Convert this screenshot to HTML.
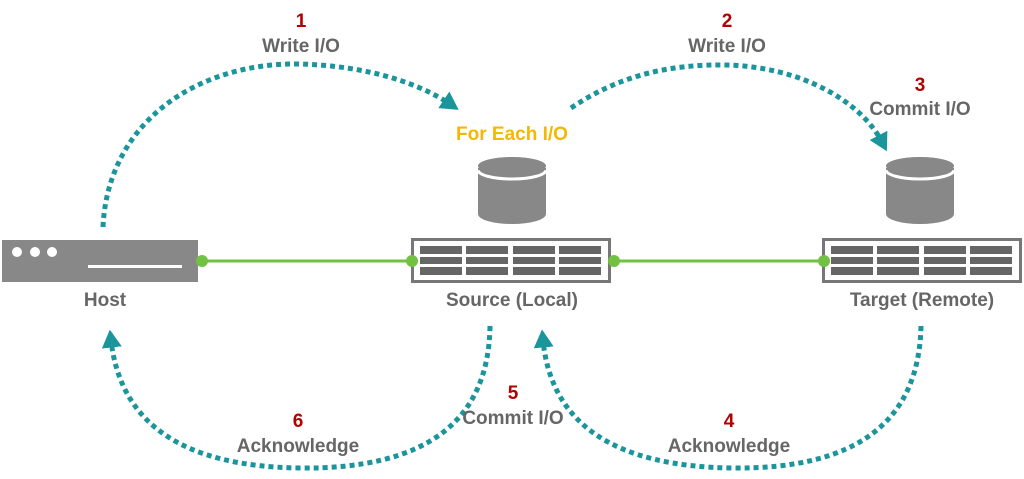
<!DOCTYPE html>
<html><head><meta charset="utf-8"><style>
html,body{margin:0;padding:0;background:#fff;}
svg{display:block}
text{font-family:"Liberation Sans Narrow","Liberation Sans",sans-serif;font-weight:bold;text-anchor:middle}
.g{fill:#666;font-size:19px}
.r{fill:#b30000;font-size:19px}
</style></head><body>
<svg width="1024" height="479" viewBox="0 0 1024 479" xmlns="http://www.w3.org/2000/svg">
<defs>
<marker id="ah" markerWidth="4" markerHeight="4" refX="1.5" refY="2" orient="auto" markerUnits="strokeWidth">
<path d="M0,0 L3.6,2 L0,4 Z" fill="#1a959c"/>
</marker>
<g id="store">
<rect x="1.5" y="1.5" width="197" height="42" fill="#fff" stroke="#777" stroke-width="3"/>
<g fill="#666">
<rect x="9" y="8" width="42" height="8"/><rect x="55" y="8" width="42" height="8"/><rect x="102" y="8" width="42" height="8"/><rect x="148" y="8" width="42" height="8"/>
<rect x="9" y="19" width="42" height="7"/><rect x="55" y="19" width="42" height="7"/><rect x="102" y="19" width="42" height="7"/><rect x="148" y="19" width="42" height="7"/>
<rect x="9" y="29" width="42" height="8"/><rect x="55" y="29" width="42" height="8"/><rect x="102" y="29" width="42" height="8"/><rect x="148" y="29" width="42" height="8"/>
</g>
</g>
<g id="cyl">
<path d="M0,10 L0,56 A34,10 0 0 0 68,56 L68,10 Z" fill="#888"/>
<ellipse cx="34" cy="8" rx="34" ry="9" fill="#888"/>
<path d="M0,12 A34,9 0 0 0 68,12" fill="none" stroke="#fff" stroke-width="3"/>
</g>
</defs>

<rect x="2" y="240" width="196" height="42" fill="#888"/>
<circle cx="17" cy="252" r="5" fill="#fff"/><circle cx="35" cy="252" r="5" fill="#fff"/><circle cx="52" cy="252" r="5" fill="#fff"/>
<rect x="88" y="265" width="94" height="3" fill="#fff"/>

<line x1="202" y1="261" x2="412" y2="261" stroke="#72c143" stroke-width="3"/>
<line x1="614" y1="261" x2="824" y2="261" stroke="#72c143" stroke-width="3"/>

<use href="#store" x="411" y="238"/>
<use href="#store" x="822" y="238"/>
<use href="#cyl" x="478" y="158"/>
<use href="#cyl" x="886" y="158"/>

<g fill="#72c143">
<circle cx="202" cy="261" r="6"/><circle cx="412" cy="261" r="6"/><circle cx="614" cy="261" r="6"/><circle cx="824" cy="261" r="6"/>
</g>

<g fill="none" stroke="#1a959c" stroke-width="5" stroke-dasharray="5 4">
<path d="M103,227 C108,120 200,62 300,64 C370,66 420,84 450,104" marker-end="url(#ah)"/>
<path d="M571,108 C620,75 670,64 727,65 C800,67 860,100 882,142" marker-end="url(#ah)"/>
<path d="M490,326 Q488,470 300,468 Q125,466 111,340" marker-end="url(#ah)"/>
<path d="M921,326 Q918,470 733,468 Q555,466 543,340" marker-end="url(#ah)"/>
</g>

<text class="r" x="301" y="27">1</text>
<text class="g" x="301" y="52">Write I/O</text>
<text class="r" x="727" y="27">2</text>
<text class="g" x="727" y="52">Write I/O</text>
<text class="r" x="920" y="91">3</text>
<text class="g" x="920" y="115">Commit I/O</text>
<text x="512" y="140" style="fill:#f5b800;font-size:19px">For Each I/O</text>
<text class="g" x="105" y="306">Host</text>
<text class="g" x="512" y="306">Source (Local)</text>
<text class="g" x="922" y="306">Target (Remote)</text>
<text class="r" x="513" y="399">5</text>
<text class="g" x="513" y="424">Commit I/O</text>
<text class="r" x="298" y="427">6</text>
<text class="g" x="298" y="452">Acknowledge</text>
<text class="r" x="729" y="427">4</text>
<text class="g" x="729" y="452">Acknowledge</text>
</svg>
</body></html>
